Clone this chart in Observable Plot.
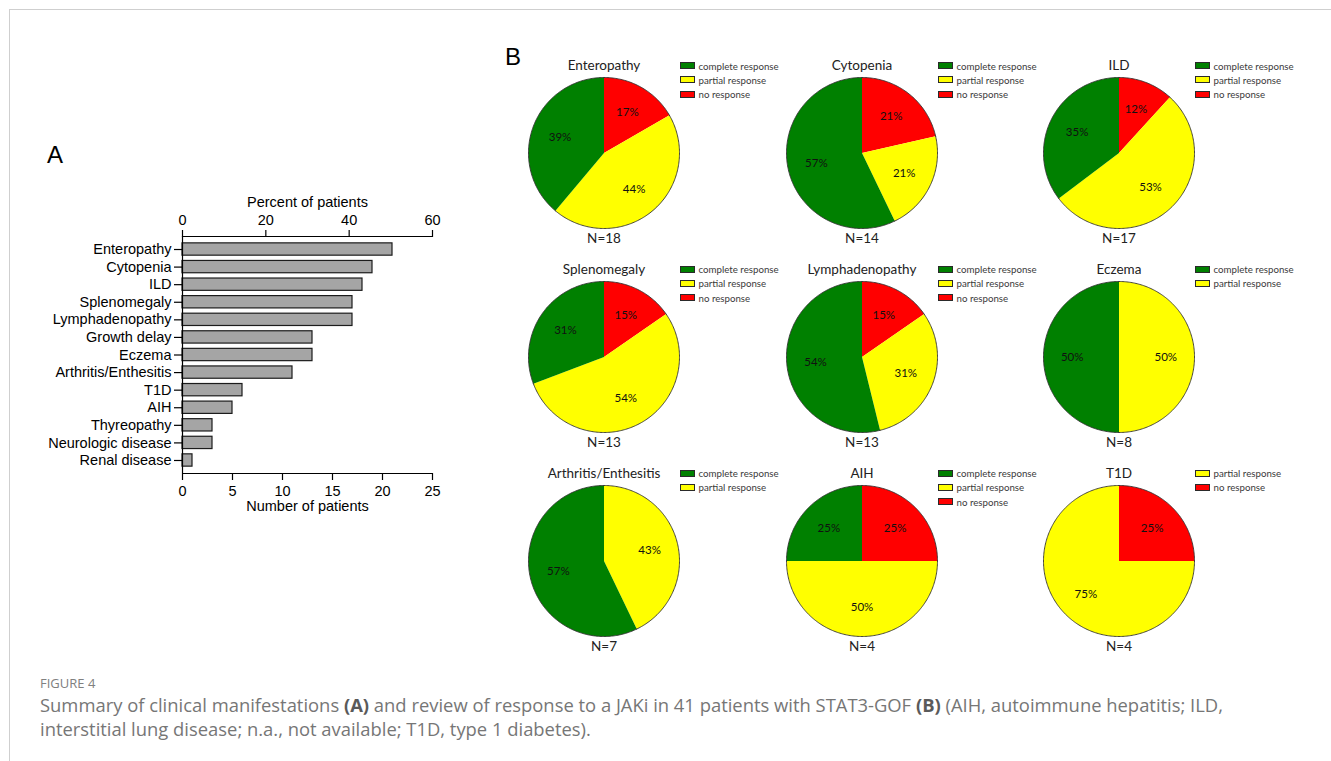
<!DOCTYPE html>
<html>
<head>
<meta charset="utf-8">
<script src="https://cdn.jsdelivr.net/npm/d3@7"></script>
<script src="https://cdn.jsdelivr.net/npm/@observablehq/plot@0.6"></script>
<style>
  body { margin: 0; background: #fff; }
  #root { position: relative; width: 1331px; height: 761px; overflow: hidden; background: #fff; }
  .frame { position: absolute; left: 9px; top: 9px; right: -2px; bottom: -2px; border-top: 1px solid #cfcfcf; border-left: 1px solid #cfcfcf; }
  .abs { position: absolute; }
  .panel-letter { font-family: "Liberation Sans", Arial, sans-serif; font-size: 24px; color: #000; line-height: 24px; }
  .legend { position: absolute; font-family: Lato, sans-serif; font-size: 9.7px; color: #3a3a3a; }
  .legend .row { display: flex; align-items: center; height: 14.3px; white-space: nowrap; }
  .legend .sw { display: inline-block; width: 15px; height: 7px; box-sizing: border-box; border: 1px solid #2a2a2a; margin-right: 4px; }
  .figlabel { font-family: "Open Sans", sans-serif; font-size: 13px; color: #808080; line-height: 16px; }
  .caption { font-family: "Open Sans", sans-serif; font-size: 18.4px; color: #767676; line-height: 24px; white-space: nowrap; }
  .caption b { color: #5a5a5a; }
</style>
</head>
<body>
<div id="root"><div class="frame"></div></div>
<script>
// ---------- Panel A data ----------
const manifestations = ["Enteropathy", "Cytopenia", "ILD", "Splenomegaly", "Lymphadenopathy", "Growth delay", "Eczema", "Arthritis/Enthesitis", "T1D", "AIH", "Thyreopathy", "Neurologic disease", "Renal disease"];
const patientCounts = [21, 19, 18, 17, 17, 13, 13, 11, 6, 5, 3, 3, 1];
const countTicks = [0, 5, 10, 15, 20, 25];
const percentTicks = [0, 20, 40, 60];

// ---------- Panel B data ----------
const responseTypes = ["complete response", "partial response", "no response"];
const responseColors = ["#008000", "#ffff00", "#ff0000"];
const pieTitles = ["Enteropathy", "Cytopenia", "ILD", "Splenomegaly", "Lymphadenopathy", "Eczema", "Arthritis/Enthesitis", "AIH", "T1D"];
const pieN = [18, 14, 17, 13, 13, 8, 7, 4, 4];
const completeCounts = [7, 8, 6, 4, 7, 4, 4, 1, 0];
const partialCounts = [8, 3, 9, 7, 4, 4, 3, 2, 3];
const noResponseCounts = [3, 3, 2, 2, 2, 0, 0, 1, 1];

const root = document.getElementById("root");

// ---------- Panel A: bar chart ----------
const barRows = manifestations.map((name, i) => ({name, count: patientCounts[i], i}));
const yExtent = [manifestations.length - 1 + 0.74, -0.74];
const bar = Plot.plot({
  width: 460, height: 330,
  marginLeft: 182, marginRight: 28, marginTop: 46, marginBottom: 47,
  style: {fontFamily: "'Liberation Sans', Arial, sans-serif", color: "#000", background: "transparent", overflow: "visible"},
  x: {domain: [0, 25]},
  y: {domain: yExtent},
  marks: [
    Plot.rect(barRows, {x1: 0, x2: "count", y1: d => d.i - 0.35, y2: d => d.i + 0.35, fill: "#a5a5a5", stroke: "#1c1c1c", strokeWidth: 1.2}),
    Plot.ruleX([0], {stroke: "#000", strokeWidth: 1.2}),
    Plot.ruleY(yExtent, {stroke: "#000", strokeWidth: 1.2}),
    Plot.axisY({ticks: barRows.map(d => d.i), tickFormat: i => manifestations[i], tickSize: 8, tickPadding: 3, fontSize: 14.5, label: null, strokeWidth: 1.2}),
    Plot.axisX({anchor: "bottom", ticks: countTicks, tickSize: 7, tickPadding: 5, fontSize: 14.5, label: null, strokeWidth: 1.2}),
    Plot.axisX({anchor: "top", ticks: percentTicks.map(p => p * 25 / 60), tickFormat: v => String(Math.round(v * 60 / 25)), tickSize: 7, tickPadding: 5, fontSize: 14.5, label: null, strokeWidth: 1.2}),
    Plot.text(["Percent of patients"], {frameAnchor: "top", lineAnchor: "middle", dy: -34, fontSize: 14.5, fill: "#000"}),
    Plot.text(["Number of patients"], {frameAnchor: "bottom", lineAnchor: "middle", dy: 33, fontSize: 14.5, fill: "#000"})
  ]
});
bar.style.position = "absolute";
bar.style.left = "0px";
bar.style.top = "190px";
root.appendChild(bar);

const letterA = document.createElement("div");
letterA.className = "abs panel-letter";
letterA.style.left = "47px"; letterA.style.top = "143px";
letterA.textContent = "A";
root.appendChild(letterA);

const letterB = document.createElement("div");
letterB.className = "abs panel-letter";
letterB.style.left = "505px"; letterB.style.top = "45px";
letterB.textContent = "B";
root.appendChild(letterB);

// ---------- Panel B: pies ----------
const pieCols = [603.5, 861.5, 1118.5];
const pieRows = [152.5, 356, 560];
const R = 75.5;

pieTitles.forEach((title, k) => {
  const counts = [noResponseCounts[k], partialCounts[k], completeCounts[k]];
  const types = ["no response", "partial response", "complete response"];
  const items = types.map((type, j) => ({type, count: counts[j]}));
  const arcs = d3.pie().sort(null).value(d => d.count)(items).filter(a => a.data.count > 0);

  const fillPts = [], edgePts = [], labels = [];
  arcs.forEach((a, j) => {
    const n = Math.max(2, Math.ceil((a.endAngle - a.startAngle) / (Math.PI / 180)));
    fillPts.push({type: a.data.type, x: 0, y: 0});
    for (let s = 0; s <= n; s++) {
      const t = a.startAngle + (a.endAngle - a.startAngle) * s / n;
      fillPts.push({type: a.data.type, x: Math.sin(t), y: Math.cos(t)});
      edgePts.push({seg: j, x: Math.sin(t), y: Math.cos(t)});
    }
    fillPts.push({type: a.data.type, x: 0, y: 0});
    const mid = (a.startAngle + a.endAngle) / 2;
    labels.push({x: 0.62 * Math.sin(mid), y: 0.62 * Math.cos(mid), text: Math.round(a.data.count / pieN[k] * 100) + "%"});
  });

  const pie = Plot.plot({
    width: 2 * R + 10, height: 2 * R + 50,
    marginLeft: 5, marginRight: 5, marginTop: 25, marginBottom: 25,
    style: {fontFamily: "Lato, sans-serif", background: "transparent", overflow: "visible"},
    x: {domain: [-1, 1], axis: null},
    y: {domain: [-1, 1], axis: null},
    color: {domain: responseTypes, range: responseColors},
    marks: [
      Plot.line(fillPts, {x: "x", y: "y", z: "type", fill: "type", stroke: "none", curve: "linear"}),
      Plot.line(edgePts, {x: "x", y: "y", z: "seg", stroke: "#333", strokeWidth: 0.9, curve: "linear"}),
      Plot.text(labels, {x: "x", y: "y", text: "text", fontSize: 11.5, fill: "#111"}),
      Plot.text([title], {frameAnchor: "top", lineAnchor: "middle", dy: -12, fontSize: 13.5, fill: "#222"}),
      Plot.text(["N=" + pieN[k]], {frameAnchor: "bottom", lineAnchor: "middle", dy: 10.5, fontSize: 13.5, fill: "#222"})
    ]
  });
  const cx = pieCols[k % 3], cy = pieRows[Math.floor(k / 3)];
  pie.style.position = "absolute";
  pie.style.left = (cx - R - 5) + "px";
  pie.style.top = (cy - R - 25) + "px";
  root.appendChild(pie);

  // legend
  const leg = document.createElement("div");
  leg.className = "legend";
  leg.style.left = (cx + 76) + "px";
  leg.style.top = (cy - 94) + "px";
  const present = [completeCounts[k], partialCounts[k], noResponseCounts[k]];
  responseTypes.forEach((t, j) => {
    if (present[j] <= 0) return;
    const row = document.createElement("div");
    row.className = "row";
    const sw = document.createElement("span");
    sw.className = "sw";
    sw.style.background = responseColors[j];
    row.appendChild(sw);
    row.appendChild(document.createTextNode(t));
    leg.appendChild(row);
  });
  root.appendChild(leg);
});

// ---------- Caption ----------
const fig = document.createElement("div");
fig.className = "abs figlabel";
fig.style.left = "40px"; fig.style.top = "675px";
fig.textContent = "FIGURE 4";
root.appendChild(fig);

const cap = document.createElement("div");
cap.className = "abs caption";
cap.style.left = "40px"; cap.style.top = "693px";
cap.innerHTML = "Summary of clinical manifestations <b>(A)</b> and review of response to a JAKi in 41 patients with STAT3-GOF <b>(B)</b> (AIH, autoimmune hepatitis; ILD,<br>interstitial lung disease; n.a., not available; T1D, type 1 diabetes).";
root.appendChild(cap);
</script>
</body>
</html>
